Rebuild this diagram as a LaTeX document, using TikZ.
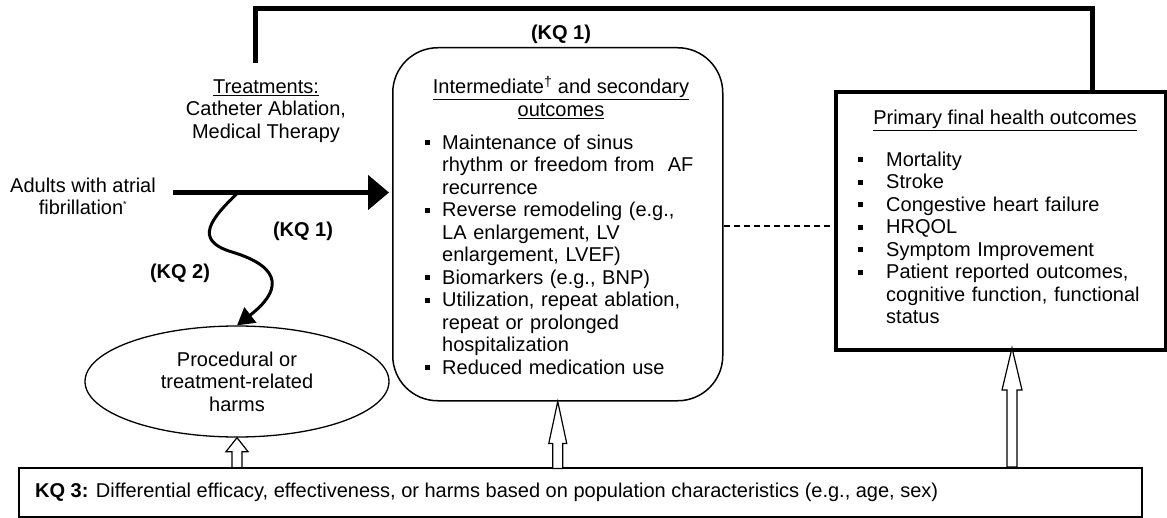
\documentclass[tikz,border=0pt]{standalone}
\usepackage{fontspec}
\setmainfont{Liberation Sans}
\usetikzlibrary{arrows.meta,shapes.geometric,calc}
\newcommand\sqbul{\rule[4pt]{5pt}{5pt}}
\newcommand\bitem[2]{\hangindent=#1\hangafter=1\noindent\makebox[#1][l]{\sqbul}#2\par}
\newcommand\nl{\hfil\break}
\begin{document}
\begin{tikzpicture}[x=1pt,y=-1pt,
  font=\fontsize{20}{22.5}\selectfont,
  txt/.style={inner sep=0, align=center},
  lbl/.style={inner sep=0, anchor=base, font=\fontsize{20}{22.5}\selectfont\bfseries},
  hollow/.style={draw, line width=1.2pt, fill=white, line join=miter},
  thick5/.style={line width=5pt, line join=miter}]
\useasboundingbox (0,0) rectangle (1167,518);

% boxes
\node[draw, line width=1.5pt, rounded corners=45pt, minimum width=330pt, minimum height=353pt, anchor=north west, inner sep=0] (ib) at (392,47) {};
\node[draw, line width=4pt, minimum width=330pt, minimum height=258pt, anchor=north west, inner sep=0] (pf) at (834,90) {};
\node[draw, line width=1.5pt, minimum width=1123pt, minimum height=49pt, anchor=north west, inner sep=0] (kq3) at (18,467) {};
\node[draw, ellipse, line width=1.3pt, minimum width=304pt, minimum height=111pt, inner sep=0, align=center] (harm) at (237,381.5) {Procedural or\\treatment-related\\harms};

% texts
\node[txt, anchor=north] (ibt) at (561,76) {\rule{0pt}{16pt}\underline{Intermediate\textsuperscript{†} and secondary}\\\underline{outcomes}};
\node[inner sep=0, anchor=north west, text width=292pt, align=left] (ibl) at (425,133) {%
\bitem{17pt}{\rule{0pt}{16pt}Maintenance of sinus\nl rhythm or freedom from\ \ AF\nl recurrence}%
\bitem{17pt}{Reverse remodeling (e.g.,\nl LA enlargement, LV\nl enlargement, LVEF)}%
\bitem{17pt}{Biomarkers (e.g., BNP)}%
\bitem{17pt}{Utilization, repeat ablation,\nl repeat or prolonged\nl hospitalization}%
\bitem{17pt}{Reduced medication use}};

\node[txt, anchor=north] (pft) at (1005,108) {\rule{0pt}{16pt}\underline{Primary final health outcomes}};
\node[inner sep=0, anchor=north west, text width=300pt, align=left] (pfl) at (858,150) {%
\bitem{28pt}{\rule{0pt}{16pt}Mortality}%
\bitem{28pt}{Stroke}%
\bitem{28pt}{Congestive heart failure}%
\bitem{28pt}{HRQOL}%
\bitem{28pt}{Symptom Improvement}%
\bitem{28pt}{Patient reported outcomes,\nl cognitive function, functional\nl status}};

\node[txt, anchor=north] (trt) at (266,77) {\rule{0pt}{16pt}\underline{Treatments:}\\Catheter Ablation,\\Medical Therapy};
\node[txt, anchor=north] (ad) at (83,176) {\rule{0pt}{16pt}Adults with atrial\\fibrillation\textsuperscript{\fontsize{9}{9}\selectfont *}};

\node[lbl] (kq1a) at (561,40) {(KQ 1)};
\node[lbl] (kq1b) at (303,237) {(KQ 1)};
\node[lbl] (kq2) at (180,279) {(KQ 2)};
\node[inner sep=0, anchor=base west] (kq3t) at (35,497) {\textbf{KQ 3:} Differential efficacy, effectiveness, or harms based on population characteristics (e.g., age, sex)};

% connectors
\coordinate (tb) at (255.5,63);
\coordinate (tt) at (255.5,9);
\coordinate (topx) at (1092,9);
\draw[thick5] (tb) -- (tt) -- (topx) -- (topx |- pf.north);

\coordinate (a0) at (173,192.5);
\coordinate (k2s) at (238,192.5);
\draw[line width=5pt, shorten >=3pt, -{Triangle[length=21pt,width=34pt]}] (a0) -- (ib.west |- a0);
\draw[line width=3pt, -{Triangle[length=17pt,width=19pt]}] (k2s) .. controls (212,218) and (192,240) .. (232,252) .. controls (285,268) and (280,292) .. (harm.north);

\coordinate (dy) at (0,226);
\draw[line width=1.3pt, dash pattern=on 6pt off 4pt] (ib.east |- dy) -- (pf.west |- dy);

\coordinate (ra) at (1012,348);
\draw[hollow] (harm.south) -- ++(-11,14) -- ++(6,0) -- ++(0,16) -- ++(10,0) -- ++(0,-16) -- ++(6,0) -- cycle;
\draw[hollow] (ib.south) -- ++(-9,42) -- ++(4,0) -- ++(0,25) -- ++(10,0) -- ++(0,-25) -- ++(4,0) -- cycle;
\draw[hollow] (ra) -- ++(-10,42) -- ++(5,0) -- ++(0,77) -- ++(10,0) -- ++(0,-77) -- ++(5,0) -- cycle;
\end{tikzpicture}
\end{document}
